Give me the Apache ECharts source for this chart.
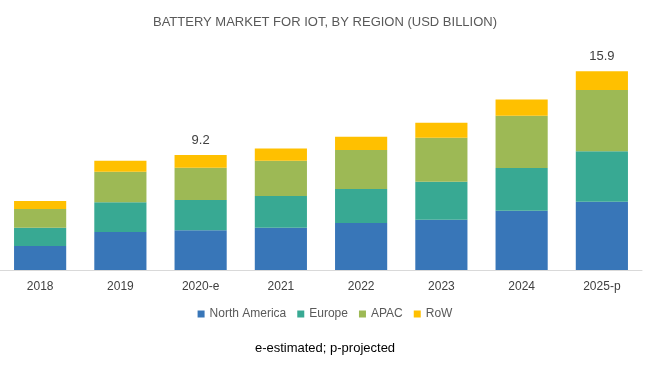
<!DOCTYPE html>
<html><head><meta charset="utf-8">
<script src="https://cdn.jsdelivr.net/npm/echarts@6/dist/echarts.min.js"></script>
<style>html,body{margin:0;padding:0;background:#fff}#c{width:650px;height:365px}</style>
</head><body><div id="c"></div>
<script>
var categories = ['2018','2019','2020-e','2021','2022','2023','2024','2025-p'];
var northAmerica = [1.92, 3.04, 3.18, 3.38, 3.76, 4.02, 4.74, 5.47];
var europe =       [1.46, 2.38, 2.42, 2.54, 2.72, 3.04, 3.42, 4.03];
var apac =         [1.50, 2.45, 2.58, 2.82, 3.12, 3.52, 4.18, 4.90];
var row =          [0.64, 0.88, 1.02, 0.99, 1.06, 1.20, 1.31, 1.50];
var labelled = [2, 7];

var chart = echarts.init(document.getElementById('c'), null, {renderer:'canvas'});
function total(i){ return northAmerica[i]+europe[i]+apac[i]+row[i]; }
var rowData = row.map(function(v,i){
  if (labelled.indexOf(i) >= 0) {
    return {value:v, label:{show:true, position:'top', distance:8,
      formatter: function(){ return total(i).toFixed(1); },
      color:'#404040', fontSize:13, fontFamily:'Liberation Sans, Arial'}};
  }
  return v;
});
function s(name, data, color){
  return {name:name, type:'bar', stack:'t', data:data, barCategoryGap:'35%',
    itemStyle:{color:color}, emphasis:{disabled:true}};
}
chart.setOption({
  animation:false,
  title:{text:'BATTERY MARKET FOR IOT, BY REGION (USD BILLION)', left:'center', top:11,
    textStyle:{fontSize:13, fontWeight:'normal', color:'#595959', fontFamily:'Liberation Sans, Arial'}},
  legend:{bottom:40, left:'center', itemWidth:7, itemHeight:7, itemGap:11, icon:'rect',
    textStyle:{fontSize:12, color:'#595959', fontFamily:'Liberation Sans, Arial'},
    data:['North America','Europe','APAC','RoW']},
  graphic:[{type:'text', left:'center', top:342,
    style:{text:'e-estimated; p-projected', fontSize:13, fill:'#000', fontFamily:'Liberation Sans, Arial'}}],
  grid:{left:0, right:8, top:45, bottom:95, containLabel:false},
  xAxis:{type:'category', data:categories,
    axisLine:{lineStyle:{color:'#D9D9D9'}}, axisTick:{show:false},
    axisLabel:{color:'#404040', fontSize:12, margin:11, fontFamily:'Liberation Sans, Arial'}},
  yAxis:{type:'value', min:0, max:18, show:false, splitLine:{show:false}},
  series:[
    s('North America', northAmerica, '#3876B8'),
    s('Europe', europe, '#38A993'),
    s('APAC', apac, '#9DB955'),
    s('RoW', rowData, '#FFC000')
  ]
});
</script></body></html>
